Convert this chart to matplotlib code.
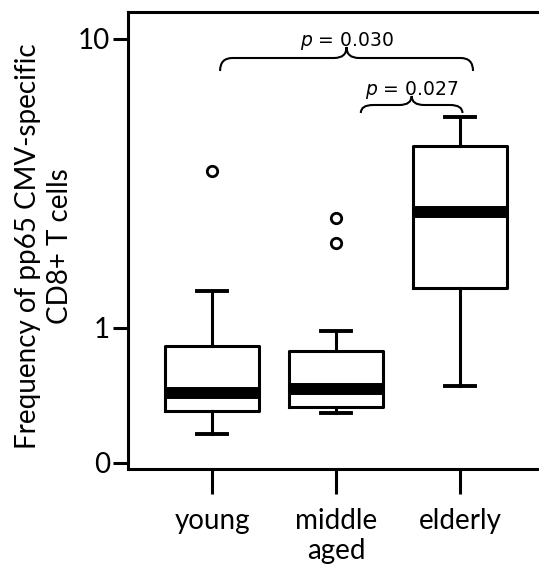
import matplotlib.pyplot as plt
import numpy as np
from matplotlib.path import Path
from matplotlib.patches import PathPatch
from matplotlib.transforms import blended_transform_factory

groups = ["young", "middle\naged", "elderly"]
q1 = [0.516, 0.533, 1.375]
median = [0.596, 0.617, 2.52]
q3 = [0.866, 0.833, 4.26]
whisk_lo = [0.430, 0.508, 0.630]
whisk_hi = [1.343, 0.976, 5.35]
outliers = [[3.49], [2.40, 1.97], []]

ytick_vals = [0.341, 1, 10]
ytick_labels = ["0", "1", "10"]

comparisons = [(1, 3, "$p$ = 0.030"), (2, 3, "$p$ = 0.027")]

plt.rcParams["font.family"] = ["Lato", "DejaVu Sans"]

fig = plt.figure(figsize=(5.39, 5.65), dpi=100)
ax = fig.add_axes([128 / 539, 1 - 469 / 565, 1 - 128 / 539, (469 - 12) / 565])

stats = []
for i in range(len(groups)):
    stats.append(dict(med=median[i], q1=q1[i], q3=q3[i], whislo=whisk_lo[i],
                      whishi=whisk_hi[i], fliers=outliers[i]))

ax.bxp(stats, positions=[1, 2, 3], widths=0.76, capwidths=0.24,
       boxprops=dict(color="black", linewidth=2.2),
       whiskerprops=dict(color="black", linewidth=2.2),
       capprops=dict(color="black", linewidth=2.8),
       medianprops=dict(color="black", linewidth=8.6, solid_capstyle="butt"),
       flierprops=dict(marker="o", markersize=7.5, markerfacecolor="white",
                       markeredgecolor="black", markeredgewidth=2.0))

ax.set_yscale("log")
ax.set_ylim(0.325, 12.4)
ax.set_xlim(1 - 84 / 124, 3 + 79 / 124)
ax.set_yticks(ytick_vals)
ax.set_yticklabels(ytick_labels)
ax.yaxis.set_minor_locator(plt.NullLocator())
ax.set_xticks([1, 2, 3])
ax.set_xticklabels(groups)

ax.tick_params(axis="y", length=11, width=2.2, labelsize=20, pad=2)
ax.tick_params(axis="x", length=18, width=2.2, labelsize=20, pad=10)
for s in ["left", "top", "bottom"]:
    ax.spines[s].set_linewidth(2.2)
ax.spines["right"].set_visible(False)

# curly braces for the comparisons (y in axes fraction)
tr = blended_transform_factory(ax.transData, ax.transAxes)
ax_h = 469 - 12


def yfrac(py):
    return (469 - py) / ax_h


def brace(x0, x1, y_low, y_flat, y_tip, r=0.1):
    xm = (x0 + x1) / 2
    verts = [(x0, y_low), (x0, y_flat), (x0 + r, y_flat),
             (xm - r, y_flat),
             (xm, y_flat), (xm, y_tip),
             (xm, y_flat), (xm + r, y_flat),
             (x1 - r, y_flat),
             (x1, y_flat), (x1, y_low)]
    codes = [Path.MOVETO, Path.CURVE3, Path.CURVE3, Path.LINETO,
             Path.CURVE3, Path.CURVE3, Path.CURVE3, Path.CURVE3,
             Path.LINETO, Path.CURVE3, Path.CURVE3]
    ax.add_patch(PathPatch(Path(verts, codes), fill=False, lw=1.5,
                           edgecolor="black", transform=tr, clip_on=False))
    return xm


brace_px = [(71, 58, 47), (113, 105, 96)]
brace_x = [(1.065, 3.105), (2.20, 3.02)]
for (a, b, label), (pl, pf, pt), (x0, x1) in zip(comparisons, brace_px, brace_x):
    xm = brace(x0, x1, yfrac(pl), yfrac(pf), yfrac(pt))
    ax.text(xm, yfrac(pt - 1), label, transform=tr, ha="center", va="baseline",
            fontsize=13.5, family="DejaVu Sans")

fig.text(44 / 539, 1 - 246 / 565, "Frequency of pp65 CMV-specific\nCD8+ T cells",
         rotation=90, ha="center", va="center", fontsize=20, linespacing=1.25)

fig.savefig("out.png", dpi=100)
